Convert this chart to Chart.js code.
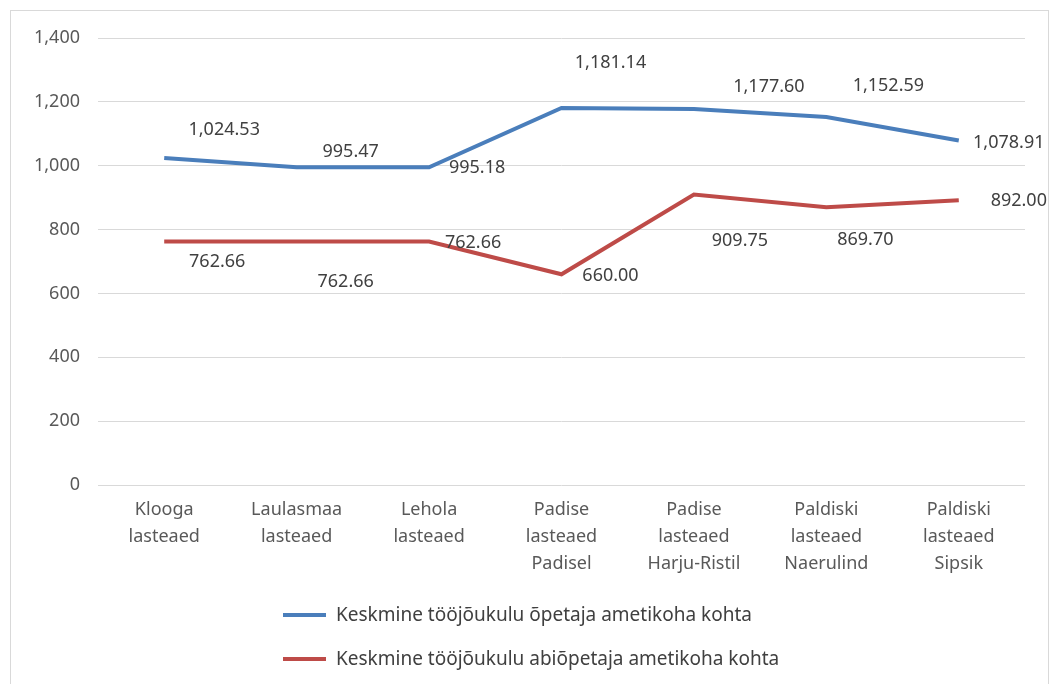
<!DOCTYPE html>
<html>
<head>
<meta charset="utf-8">
<script src="https://cdn.jsdelivr.net/npm/chart.js@4"></script>
<style>
    body { margin: 0; background: #fff; }
    #wrap { position: relative; width: 1052px; height: 684px; overflow: hidden; }
    #frame { position: absolute; left: 10px; top: 10px; width: 1037px; height: 700px; border: 1px solid #d9d9d9; }
    #chart { position: absolute; left: 0; top: 0; }
    .leg { position: absolute; left: 283px; font: 19px "Noto Sans", sans-serif; color: #404040; white-space: nowrap; }
    .leg span { display: inline-block; width: 43px; height: 4px; margin-right: 10px; vertical-align: middle; position: relative; top: -1px; }
</style>
</head>
<body>
<div id="wrap">
    <div id="frame"></div>
    <canvas id="chart" width="1052" height="684"></canvas>
    <div class="leg" style="top:601px"><span style="background:#4a7ebb"></span>Keskmine tööjõukulu õpetaja ametikoha kohta</div>
    <div class="leg" style="top:645px"><span style="background:#be4b48"></span>Keskmine tööjõukulu abiõpetaja ametikoha kohta</div>
</div>
<script>
const categories = [
    ["Klooga", "lasteaed"],
    ["Laulasmaa", "lasteaed"],
    ["Lehola", "lasteaed"],
    ["Padise", "lasteaed", "Padisel"],
    ["Padise", "lasteaed", "Harju-Ristil"],
    ["Paldiski", "lasteaed", "Naerulind"],
    ["Paldiski", "lasteaed", "Sipsik"]
];
const teacherCost = [1024.53, 995.47, 995.18, 1181.14, 1177.60, 1152.59, 1078.91];
const assistantCost = [762.66, 762.66, 762.66, 660.00, 909.75, 869.70, 892.00];
const seriesNames = [
    "Keskmine tööjõukulu õpetaja ametikoha kohta",
    "Keskmine tööjõukulu abiõpetaja ametikoha kohta"
];

// where each value label sits relative to its point (px)
const labelOffsets = [
    [[60, -28], [54, -15], [48, 1], [49, -45], [75, -22], [62, -31], [50, 2]],
    [[53, 20], [49, 40], [44, 1], [49, 2], [46, 46], [39, 33], [60, 1]]
];

const fmt = v => v.toLocaleString("en-US", { minimumFractionDigits: 2, maximumFractionDigits: 2 });

const valueLabels = {
    id: "valueLabels",
    afterDatasetsDraw(chart) {
        const ctx = chart.ctx;
        ctx.save();
        ctx.font = '18px "Noto Sans", sans-serif';
        ctx.fillStyle = "#404040";
        ctx.textAlign = "center";
        ctx.textBaseline = "middle";
        chart.data.datasets.forEach((ds, i) => {
            chart.getDatasetMeta(i).data.forEach((pt, j) => {
                const off = labelOffsets[i][j];
                ctx.fillText(fmt(ds.data[j]), pt.x + off[0], pt.y + off[1]);
            });
        });
        ctx.restore();
    }
};

const ctx = document.getElementById("chart").getContext("2d");
new Chart(ctx, {
    type: "line",
    data: {
        labels: categories,
        datasets: [{
            label: seriesNames[0],
            data: teacherCost,
            borderColor: "#4a7ebb",
            backgroundColor: "#4a7ebb",
            borderWidth: 4,
            pointRadius: 0,
            tension: 0
        }, {
            label: seriesNames[1],
            data: assistantCost,
            borderColor: "#be4b48",
            backgroundColor: "#be4b48",
            borderWidth: 4,
            pointRadius: 0,
            tension: 0
        }]
    },
    options: {
        responsive: false,
        animation: false,
        layout: { padding: { left: 20, right: 27, top: 38, bottom: 96 } },
        plugins: {
            legend: { display: false },
            tooltip: { enabled: false }
        },
        scales: {
            x: {
                offset: true,
                grid: { display: false, drawTicks: false },
                border: { display: false },
                ticks: {
                    color: "#595959",
                    font: { family: "Noto Sans", size: 18, lineHeight: 1.5 },
                    padding: 11,
                    maxRotation: 0,
                    autoSkip: false
                }
            },
            y: {
                min: 0,
                max: 1400,
                afterFit: s => { s.width = 78; },
                grid: { color: "#d9d9d9", drawTicks: false },
                border: { display: false },
                ticks: {
                    stepSize: 200,
                    color: "#595959",
                    font: { family: "Noto Sans", size: 18 },
                    padding: 18,
                    callback: v => v.toLocaleString("en-US")
                }
            }
        }
    },
    plugins: [valueLabels]
});
</script>
</body>
</html>
